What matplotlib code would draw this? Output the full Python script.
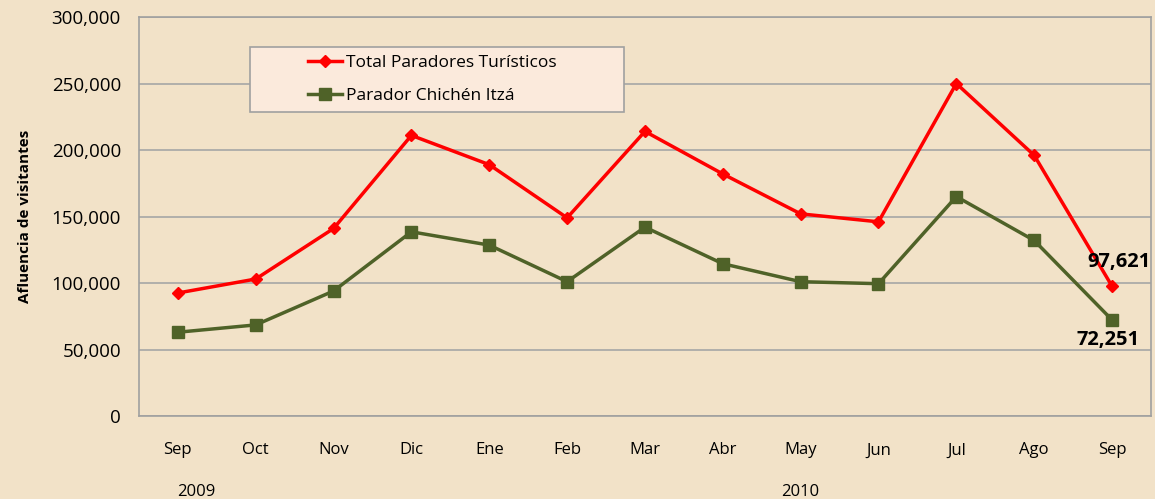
import matplotlib
matplotlib.use("Agg")
import matplotlib.pyplot as plt
from matplotlib.patches import Rectangle

months = ["Sep", "Oct", "Nov", "Dic", "Ene", "Feb", "Mar", "Abr", "May", "Jun", "Jul", "Ago", "Sep"]
total = [92500, 103000, 141000, 211000, 189000, 149000, 214000, 182000, 152000, 146000, 250000, 196000, 97621]
chichen = [63000, 68500, 94000, 138500, 128500, 101000, 142000, 114500, 101000, 99500, 165000, 132000, 72251]
years = ["2009", "2010"]
yticks = [0, 50000, 100000, 150000, 200000, 250000, 300000]

plt.rcParams['font.family'] = ['Open Sans', 'DejaVu Sans']
bg = "#F2E2C8"
fig = plt.figure(figsize=(11.55, 4.99), dpi=100, facecolor=bg)
ax = fig.add_axes([0.1203, 0.1663, 0.8762, 0.7996])
ax.set_facecolor(bg)

x = list(range(len(months)))
ax.plot(x, total, color="#FF0000", lw=2.5, marker="D", ms=6.5, label="Total Paradores Turísticos", zorder=3)
ax.plot(x, chichen, color="#4F6228", lw=2.5, marker="s", ms=8, label="Parador Chichén Itzá", zorder=3)

ax.set_xlim(-0.5, len(months) - 0.5)
ax.set_ylim(0, 300000)
ax.set_yticks(yticks)
ax.set_yticklabels([f"{v:,}" for v in yticks], fontsize=13.5)
ax.set_xticks(x)
ax.set_xticklabels(months, fontsize=12)
ax.tick_params(axis="both", length=0)
ax.tick_params(axis="y", pad=13)
ax.tick_params(axis="x", pad=19)
ax.grid(axis="y", color="#A6A6A6", lw=1.2, zorder=1)
for s in ax.spines.values():
    s.set_color("#A0A0A0")
    s.set_linewidth(1.2)

ax.set_ylabel("Afluencia de visitantes", fontsize=11, fontweight="bold", labelpad=14)

ax.annotate(f"{total[-1]:,}", (x[-1], total[-1]), xytext=(5, 10), textcoords="offset points",
            ha="center", va="bottom", fontsize=14.5, fontweight="bold")
ax.annotate(f"{chichen[-1]:,}", (x[-1], chichen[-1]), xytext=(-3, -7), textcoords="offset points",
            ha="center", va="top", fontsize=14.5, fontweight="bold")

trans = ax.get_xaxis_transform()
ax.text(0.24, -0.19, years[0], transform=trans, ha="center", va="center", fontsize=12)
ax.text(8.0, -0.19, years[1], transform=trans, ha="center", va="center", fontsize=12)

box = Rectangle((0.1097, 0.7619), 0.3696, 0.1629, transform=ax.transAxes, facecolor="#FBEADC",
                edgecolor="#A0A0A0", lw=1.2, zorder=4)
ax.add_patch(box)
leg = ax.legend(loc="center left", bbox_to_anchor=(0.158, 0.843), fontsize=12.5, frameon=False,
                handlelength=2.0, borderpad=0.0, labelspacing=1.0, handletextpad=0.2)
leg.set_zorder(5)

fig.savefig("out.png", dpi=100, facecolor=bg)
